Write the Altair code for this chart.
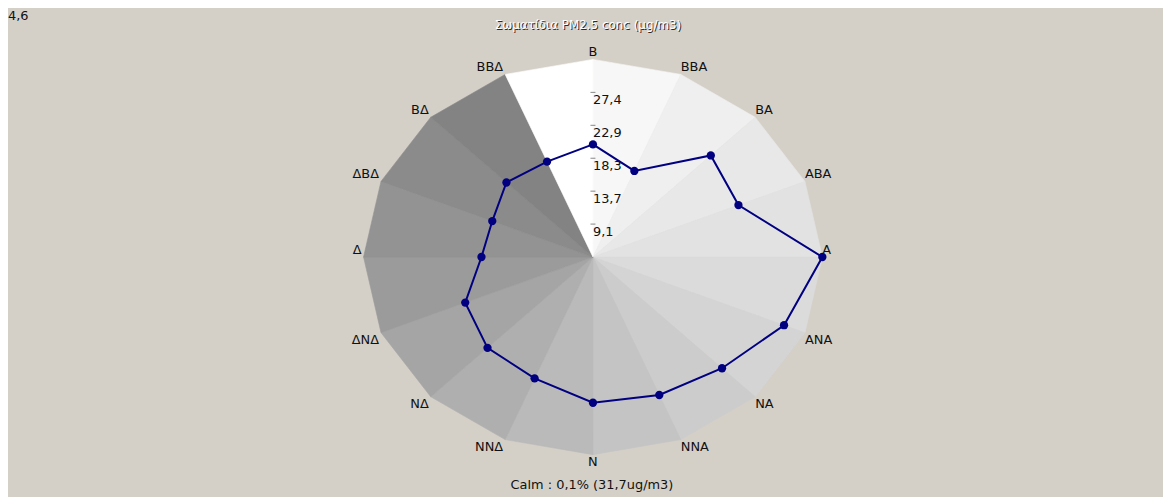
import altair as alt
import pandas as pd

# ---- data ----
directions = ["Β", "ΒΒΑ", "ΒΑ", "ΑΒΑ", "Α", "ΑΝΑ", "ΝΑ", "ΝΝΑ",
              "Ν", "ΝΝΔ", "ΝΔ", "ΔΝΔ", "Δ", "ΔΒΔ", "ΒΔ", "ΒΒΔ"]
concentrations = [20.2, 17.5, 24.5, 23.4, 32.0, 29.3, 26.4, 25.3,
                  24.8, 22.8, 22.4, 21.1, 17.9, 17.6, 19.2, 18.9]
sector_colors = ["#f7f7f7", "#efefef", "#e8e8e8", "#e2e2e2", "#dbdbdb", "#d4d4d4",
                 "#cccccc", "#c4c4c4", "#bababa", "#afafaf", "#a5a5a5", "#9b9b9b",
                 "#939393", "#8b8b8b", "#838383", "#ffffff"]
tick_values = [9.14, 13.71, 18.28, 22.85, 27.42]
tick_labels = ["9,1", "13,7", "18,3", "22,9", "27,4"]
center_label = "4,6"
title_text = "Σωματίδια PM2.5 conc (μg/m3)"
calm_text = "Calm :   0,1% (31,7ug/m3)"
v_min = 4.57
v_max = 32.0

# ---- layout ----
W, H = 1163, 500
CX, CY = 589, 249
RX, RY = 231, 199
STEP = 22.5
BG = "#d4d0c8"
FONT = "DejaVu Sans"

n = len(directions)
xs = alt.Scale(domain=[-CX / RX, (W - CX) / RX], nice=False, zero=False)
ys = alt.Scale(domain=[-(H - CY) / RY, CY / RY], nice=False, zero=False)
X = alt.X("px:Q", scale=xs, axis=None)
Y = alt.Y("py:Q", scale=ys, axis=None)

# sectors: triangles center -> vertex i -> vertex i+1
sec_rows = []
for i in range(n):
    sec_rows.append({"sector": i, "k": 0, "rr": 0.0, "idx": i, "col": sector_colors[i]})
    sec_rows.append({"sector": i, "k": 1, "rr": 1.0, "idx": i, "col": sector_colors[i]})
    sec_rows.append({"sector": i, "k": 2, "rr": 1.0, "idx": i + 1, "col": sector_colors[i]})
sec_df = pd.DataFrame(sec_rows)

sectors = alt.Chart(sec_df).transform_calculate(
    ang=f"datum.idx*{STEP}*PI/180"
).transform_calculate(
    px="datum.rr*sin(datum.ang)", py="datum.rr*cos(datum.ang)"
).mark_line(filled=True, strokeWidth=0.6, interpolate="linear-closed").encode(
    x=X, y=Y, order="k:Q", detail="sector:N",
    color=alt.Color("col:N", scale=None),
    stroke=alt.Stroke("col:N", scale=None),
)

# values polygon
val_df = pd.DataFrame({"dir": directions + [directions[0]],
                       "value": concentrations + [concentrations[0]],
                       "idx": list(range(n)) + [n]})
val_base = alt.Chart(val_df).transform_calculate(
    ang=f"datum.idx*{STEP}*PI/180",
    rr=f"(datum.value-{v_min})/({v_max}-{v_min})",
).transform_calculate(
    px="datum.rr*sin(datum.ang)", py="datum.rr*cos(datum.ang)"
)
line = val_base.mark_line(color="#000080", strokeWidth=2).encode(x=X, y=Y, order="idx:Q")
pts = val_base.transform_filter(f"datum.idx < {n}").mark_circle(
    color="#000080", opacity=1, size=70).encode(x=X, y=Y)

# radial ticks
tk_df = pd.DataFrame({"v": tick_values, "lab": tick_labels})
tk_base = alt.Chart(tk_df).transform_calculate(
    px="0", py=f"(datum.v-{v_min})/({v_max}-{v_min})"
)
tk_marks = tk_base.mark_tick(orient="horizontal", size=5, thickness=1, color="#555555").encode(x=X, y=Y)
tk_text = tk_base.mark_text(align="left", baseline="top", dx=0, dy=2, font=FONT,
                            fontSize=13, color="#111111").encode(x=X, y=Y, text="lab:N")

# direction labels
lab_df = pd.DataFrame({"dir": directions, "idx": list(range(n))})
lab_base = alt.Chart(lab_df).transform_calculate(
    ang=f"datum.idx*{STEP}*PI/180"
).transform_calculate(
    px="sin(datum.ang)", py="cos(datum.ang)",
    s="abs(sin(datum.ang))<0.01 ? 0 : (sin(datum.ang)>0 ? 1 : -1)",
    top="cos(datum.ang) > -0.01",
)
def dir_layer(side, top, align, dx, dy):
    return lab_base.transform_filter(f"datum.s == {side} && datum.top == {str(top).lower()}").mark_text(
        align=align, baseline="alphabetic", dx=dx, dy=dy, font=FONT, fontSize=13, color="#111111"
    ).encode(x=X, y=Y, text="dir:N")

labels = [
    dir_layer(1, True, "left", 0, -3),
    dir_layer(1, False, "left", 0, 11),
    dir_layer(-1, True, "right", -2, -3),
    dir_layer(-1, False, "right", -2, 11),
    dir_layer(0, True, "center", 0, -3),
    dir_layer(0, False, "center", 0, 11),
]

# annotations
ann = pd.DataFrame({"t": [title_text]})
title_shadow = alt.Chart(ann).mark_text(align="center", baseline="alphabetic", font=FONT,
                                        fontSize=12, color="#2a2a2a").encode(
    x=alt.value(585), y=alt.value(20.5), text="t:N")
title_main = alt.Chart(ann).mark_text(align="center", baseline="alphabetic", font=FONT,
                                      fontSize=12, color="#ffffff").encode(
    x=alt.value(584), y=alt.value(19.5), text="t:N")
corner = alt.Chart(pd.DataFrame({"t": [center_label]})).mark_text(
    align="left", baseline="alphabetic", font=FONT, fontSize=13, color="#111111").encode(
    x=alt.value(0), y=alt.value(10.5), text="t:N")
calm = alt.Chart(pd.DataFrame({"t": [calm_text]})).mark_text(
    align="center", baseline="alphabetic", font=FONT, fontSize=13, color="#111111").encode(
    x=alt.value(588), y=alt.value(483), text="t:N")

chart = alt.layer(
    sectors, line, pts, tk_marks, tk_text, *labels, title_shadow, title_main, corner, calm
).properties(
    width=W, height=H, padding=0, background=BG
).configure_view(stroke=None)

chart.save("out.html", embed_options={"renderer": "svg", "actions": False})
